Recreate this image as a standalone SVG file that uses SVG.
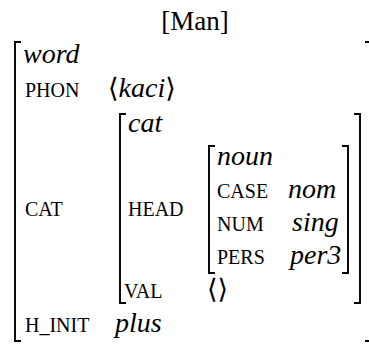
<svg xmlns="http://www.w3.org/2000/svg" width="369" height="345" viewBox="0 0 369 345">
  <style>
    text { font-family: 'Liberation Serif', 'DejaVu Serif', serif; fill: #000; }
    .ty { font-size: 28px; font-style: italic; }
    .ft { font-size: 20px; }
    .up { font-size: 27px; font-style: normal; }
    .br { fill: none; stroke: #000; stroke-width: 1.9; stroke-linecap: butt; }
  </style>
  <rect width="369" height="345" fill="#fff"/>

  <!-- title -->
  <text class="up" x="195" y="30" text-anchor="middle" font-size="30">[Man]</text>

  <!-- outer matrix brackets -->
  <g id="outer-brackets">
    <path class="br" d="M21,42 H15 V341 H21"/>
    <path class="br" d="M365,42 H370 M365,341 H370"/>
  </g>

  <!-- cat matrix brackets -->
  <g id="cat-brackets">
    <path class="br" d="M126,114 H120 V303 H126"/>
    <path class="br" d="M354,114 H360 V303 H354"/>
  </g>

  <!-- noun matrix brackets -->
  <g id="noun-brackets">
    <path class="br" d="M215,146 H209 V273 H215"/>
    <path class="br" d="M342,146 H348 V273 H342"/>
  </g>

  <!-- outer features -->
  <g id="word">
    <text class="ty" x="23" y="63">word</text>
    <text class="ft" x="25" y="97">PHON</text>
    <text class="up" x="108" y="97">⟨<tspan font-style="italic" font-size="28">kaci</tspan>⟩</text>
    <text class="ft" x="25" y="216">CAT</text>
    <text class="ft" x="25" y="332">H_INIT</text>
    <text class="ty" x="115" y="332">plus</text>
  </g>

  <!-- cat features -->
  <g id="cat">
    <text class="ty" x="128" y="132">cat</text>
    <text class="ft" x="128" y="216">HEAD</text>
    <text class="ft" x="124" y="298">VAL</text>
    <text class="up" x="207" y="298">⟨⟩</text>
  </g>

  <!-- noun features -->
  <g id="noun">
    <text class="ty" x="217" y="165">noun</text>
    <text class="ft" x="217" y="198">CASE</text>
    <text class="ty" x="288" y="198">nom</text>
    <text class="ft" x="217" y="231">NUM</text>
    <text class="ty" x="292" y="231">sing</text>
    <text class="ft" x="217" y="264">PERS</text>
    <text class="ty" x="290" y="264">per3</text>
  </g>
</svg>
